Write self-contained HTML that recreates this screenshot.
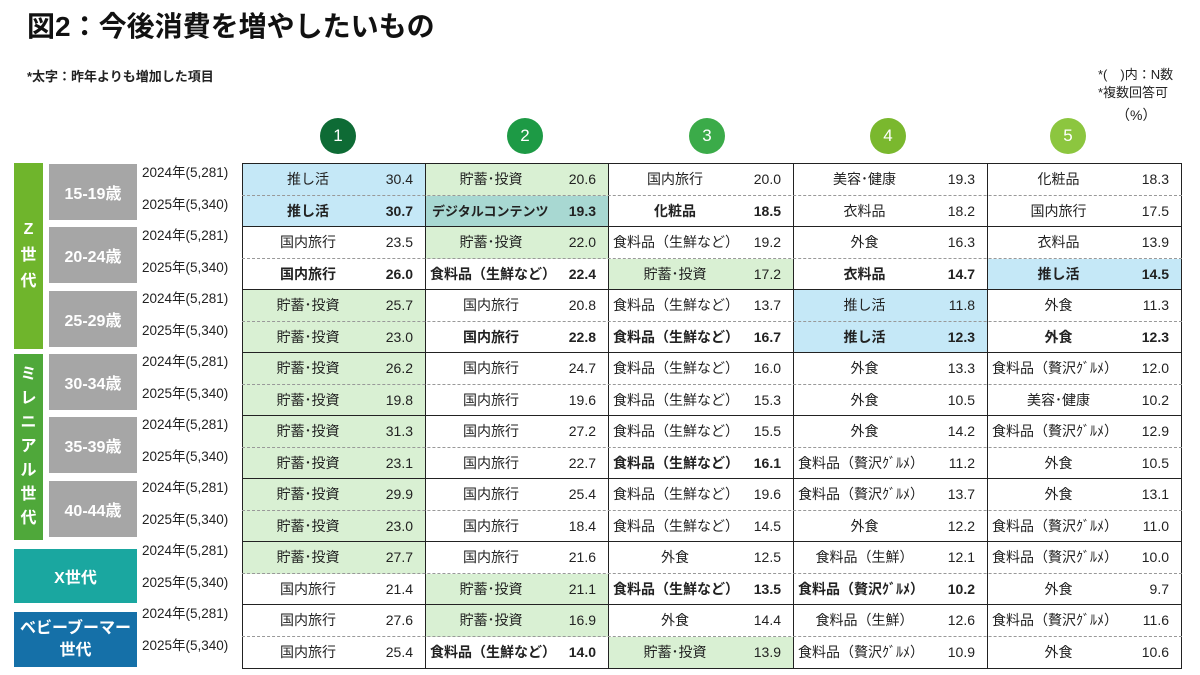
<!DOCTYPE html>
<html><head><meta charset="utf-8"><style>
body{margin:0;width:1200px;height:675px;background:#fff;position:relative;overflow:hidden;font-family:"Liberation Sans","Noto Sans CJK JP",sans-serif;color:#222}
.a{position:absolute}
.title{left:27px;top:5px;font-size:28px;font-weight:bold;color:#111}
.sub{left:27px;top:66px;font-size:13px;font-weight:bold}
.note{left:1098px;top:66px;font-size:13px;line-height:18px}
.circ{position:absolute;top:118px;width:36px;height:36px;border-radius:50%;color:#fff;font-size:17px;text-align:center;line-height:36px}
.r{position:absolute;left:242px;width:940px;height:31.5px;display:flex;border-top:1px dashed #999}
.r.s{border-top:1.5px solid #222}
.c{position:relative;height:100%;border-left:1.5px solid #222;box-sizing:border-box;font-size:14px}
.c:nth-child(1){width:183px}.c:nth-child(2){width:183px}.c:nth-child(3){width:185px}.c:nth-child(4){width:194px}.c:nth-child(5){width:195px;border-right:1.5px solid #222}
.c span{position:absolute;left:0;right:52px;top:0;line-height:31px;text-align:center;white-space:nowrap}
.c i{position:absolute;right:12px;top:0;line-height:31px;font-style:normal}
.c.L span{left:4px;right:auto;text-align:left}
.c.B span,.c.B i{font-weight:bold}
.g{background:#d9f0d3}.b{background:#c5e8f7}.t{background:#a8d8d2}
.yr{position:absolute;left:142px;font-size:13.5px;line-height:20px}
.box{position:absolute;color:#fff;font-weight:bold;text-align:center;display:flex;align-items:center;justify-content:center}
.age{left:49px;width:88px;height:56px;background:#a6a6a6;font-size:16px}
</style></head><body>
<div class="a title">図2：今後消費を増やしたいもの</div>
<div class="a sub">*太字：昨年よりも増加した項目</div>
<div class="a note">*(　)内：N数<br>*複数回答可<br><span style="padding-left:18px;font-size:14px;line-height:26px">（%）</span></div>
<div class="circ" style="left:320px;background:#0e6b35">1</div>
<div class="circ" style="left:507px;background:#1d9a45">2</div>
<div class="circ" style="left:689px;background:#3bab49">3</div>
<div class="circ" style="left:870px;background:#7ab82e">4</div>
<div class="circ" style="left:1050px;background:#8cc63f">5</div>

<div class="box" style="left:14px;top:163px;width:29px;height:186px;background:#6fb52c;font-size:16px;line-height:26px">Z<br>世<br>代</div>
<div class="box" style="left:14px;top:354px;width:29px;height:186px;background:#4fa83a;font-size:16px;line-height:24px">ミ<br>レ<br>ニ<br>ア<br>ル<br>世<br>代</div>
<div class="box age" style="top:164px">15-19歳</div>
<div class="box age" style="top:227px">20-24歳</div>
<div class="box age" style="top:291px">25-29歳</div>
<div class="box age" style="top:354px">30-34歳</div>
<div class="box age" style="top:417px">35-39歳</div>
<div class="box age" style="top:481px">40-44歳</div>
<div class="box" style="left:14px;top:549px;width:123px;height:54px;background:#1aa7a0;font-size:16px">X世代</div>
<div class="box" style="left:14px;top:612px;width:123px;height:55px;background:#1570a8;font-size:16px;line-height:22px">ベビーブーマー<br>世代</div>

<div class="yr" style="top:163px">2024年(5,281)</div><div class="yr" style="top:195px">2025年(5,340)</div>
<div class="yr" style="top:226px">2024年(5,281)</div><div class="yr" style="top:258px">2025年(5,340)</div>
<div class="yr" style="top:289px">2024年(5,281)</div><div class="yr" style="top:321px">2025年(5,340)</div>
<div class="yr" style="top:352px">2024年(5,281)</div><div class="yr" style="top:384px">2025年(5,340)</div>
<div class="yr" style="top:415px">2024年(5,281)</div><div class="yr" style="top:447px">2025年(5,340)</div>
<div class="yr" style="top:478px">2024年(5,281)</div><div class="yr" style="top:510px">2025年(5,340)</div>
<div class="yr" style="top:541px">2024年(5,281)</div><div class="yr" style="top:573px">2025年(5,340)</div>
<div class="yr" style="top:604px">2024年(5,281)</div><div class="yr" style="top:636px">2025年(5,340)</div>

<div class="r s" style="top:163px"><div class="c b"><span>推し活</span><i>30.4</i></div><div class="c g"><span>貯蓄･投資</span><i>20.6</i></div><div class="c"><span>国内旅行</span><i>20.0</i></div><div class="c"><span>美容･健康</span><i>19.3</i></div><div class="c"><span>化粧品</span><i>18.3</i></div></div>
<div class="r" style="top:194.5px"><div class="c b B"><span>推し活</span><i>30.7</i></div><div class="c t B"><span style="font-size:13px;left:6px;right:auto">デジタルコンテンツ</span><i>19.3</i></div><div class="c B"><span>化粧品</span><i>18.5</i></div><div class="c"><span>衣料品</span><i>18.2</i></div><div class="c"><span>国内旅行</span><i>17.5</i></div></div>
<div class="r s" style="top:226px"><div class="c"><span>国内旅行</span><i>23.5</i></div><div class="c g"><span>貯蓄･投資</span><i>22.0</i></div><div class="c L"><span>食料品（生鮮など）</span><i>19.2</i></div><div class="c"><span>外食</span><i>16.3</i></div><div class="c"><span>衣料品</span><i>13.9</i></div></div>
<div class="r" style="top:257.5px"><div class="c B"><span>国内旅行</span><i>26.0</i></div><div class="c L B"><span>食料品（生鮮など）</span><i>22.4</i></div><div class="c g"><span>貯蓄･投資</span><i>17.2</i></div><div class="c B"><span>衣料品</span><i>14.7</i></div><div class="c b B"><span>推し活</span><i>14.5</i></div></div>
<div class="r s" style="top:289px"><div class="c g"><span>貯蓄･投資</span><i>25.7</i></div><div class="c"><span>国内旅行</span><i>20.8</i></div><div class="c L"><span>食料品（生鮮など）</span><i>13.7</i></div><div class="c b"><span>推し活</span><i>11.8</i></div><div class="c"><span>外食</span><i>11.3</i></div></div>
<div class="r" style="top:320.5px"><div class="c g"><span>貯蓄･投資</span><i>23.0</i></div><div class="c B"><span>国内旅行</span><i>22.8</i></div><div class="c L B"><span>食料品（生鮮など）</span><i>16.7</i></div><div class="c b B"><span>推し活</span><i>12.3</i></div><div class="c B"><span>外食</span><i>12.3</i></div></div>
<div class="r s" style="top:352px"><div class="c g"><span>貯蓄･投資</span><i>26.2</i></div><div class="c"><span>国内旅行</span><i>24.7</i></div><div class="c L"><span>食料品（生鮮など）</span><i>16.0</i></div><div class="c"><span>外食</span><i>13.3</i></div><div class="c L"><span>食料品（贅沢ｸﾞﾙﾒ）</span><i>12.0</i></div></div>
<div class="r" style="top:383.5px"><div class="c g"><span>貯蓄･投資</span><i>19.8</i></div><div class="c"><span>国内旅行</span><i>19.6</i></div><div class="c L"><span>食料品（生鮮など）</span><i>15.3</i></div><div class="c"><span>外食</span><i>10.5</i></div><div class="c"><span>美容･健康</span><i>10.2</i></div></div>
<div class="r s" style="top:415px"><div class="c g"><span>貯蓄･投資</span><i>31.3</i></div><div class="c"><span>国内旅行</span><i>27.2</i></div><div class="c L"><span>食料品（生鮮など）</span><i>15.5</i></div><div class="c"><span>外食</span><i>14.2</i></div><div class="c L"><span>食料品（贅沢ｸﾞﾙﾒ）</span><i>12.9</i></div></div>
<div class="r" style="top:446.5px"><div class="c g"><span>貯蓄･投資</span><i>23.1</i></div><div class="c"><span>国内旅行</span><i>22.7</i></div><div class="c L B"><span>食料品（生鮮など）</span><i>16.1</i></div><div class="c L"><span>食料品（贅沢ｸﾞﾙﾒ）</span><i>11.2</i></div><div class="c"><span>外食</span><i>10.5</i></div></div>
<div class="r s" style="top:478px"><div class="c g"><span>貯蓄･投資</span><i>29.9</i></div><div class="c"><span>国内旅行</span><i>25.4</i></div><div class="c L"><span>食料品（生鮮など）</span><i>19.6</i></div><div class="c L"><span>食料品（贅沢ｸﾞﾙﾒ）</span><i>13.7</i></div><div class="c"><span>外食</span><i>13.1</i></div></div>
<div class="r" style="top:509.5px"><div class="c g"><span>貯蓄･投資</span><i>23.0</i></div><div class="c"><span>国内旅行</span><i>18.4</i></div><div class="c L"><span>食料品（生鮮など）</span><i>14.5</i></div><div class="c"><span>外食</span><i>12.2</i></div><div class="c L"><span>食料品（贅沢ｸﾞﾙﾒ）</span><i>11.0</i></div></div>
<div class="r s" style="top:541px"><div class="c g"><span>貯蓄･投資</span><i>27.7</i></div><div class="c"><span>国内旅行</span><i>21.6</i></div><div class="c"><span>外食</span><i>12.5</i></div><div class="c"><span>食料品（生鮮）</span><i>12.1</i></div><div class="c L"><span>食料品（贅沢ｸﾞﾙﾒ）</span><i>10.0</i></div></div>
<div class="r" style="top:572.5px"><div class="c"><span>国内旅行</span><i>21.4</i></div><div class="c g"><span>貯蓄･投資</span><i>21.1</i></div><div class="c L B"><span>食料品（生鮮など）</span><i>13.5</i></div><div class="c L B"><span>食料品（贅沢ｸﾞﾙﾒ）</span><i>10.2</i></div><div class="c"><span>外食</span><i>9.7</i></div></div>
<div class="r s" style="top:604px"><div class="c"><span>国内旅行</span><i>27.6</i></div><div class="c g"><span>貯蓄･投資</span><i>16.9</i></div><div class="c"><span>外食</span><i>14.4</i></div><div class="c"><span>食料品（生鮮）</span><i>12.6</i></div><div class="c L"><span>食料品（贅沢ｸﾞﾙﾒ）</span><i>11.6</i></div></div>
<div class="r" style="top:635.5px;border-bottom:1.5px solid #222"><div class="c"><span>国内旅行</span><i>25.4</i></div><div class="c L B"><span>食料品（生鮮など）</span><i>14.0</i></div><div class="c g"><span>貯蓄･投資</span><i>13.9</i></div><div class="c L"><span>食料品（贅沢ｸﾞﾙﾒ）</span><i>10.9</i></div><div class="c"><span>外食</span><i>10.6</i></div></div>
</body></html>
